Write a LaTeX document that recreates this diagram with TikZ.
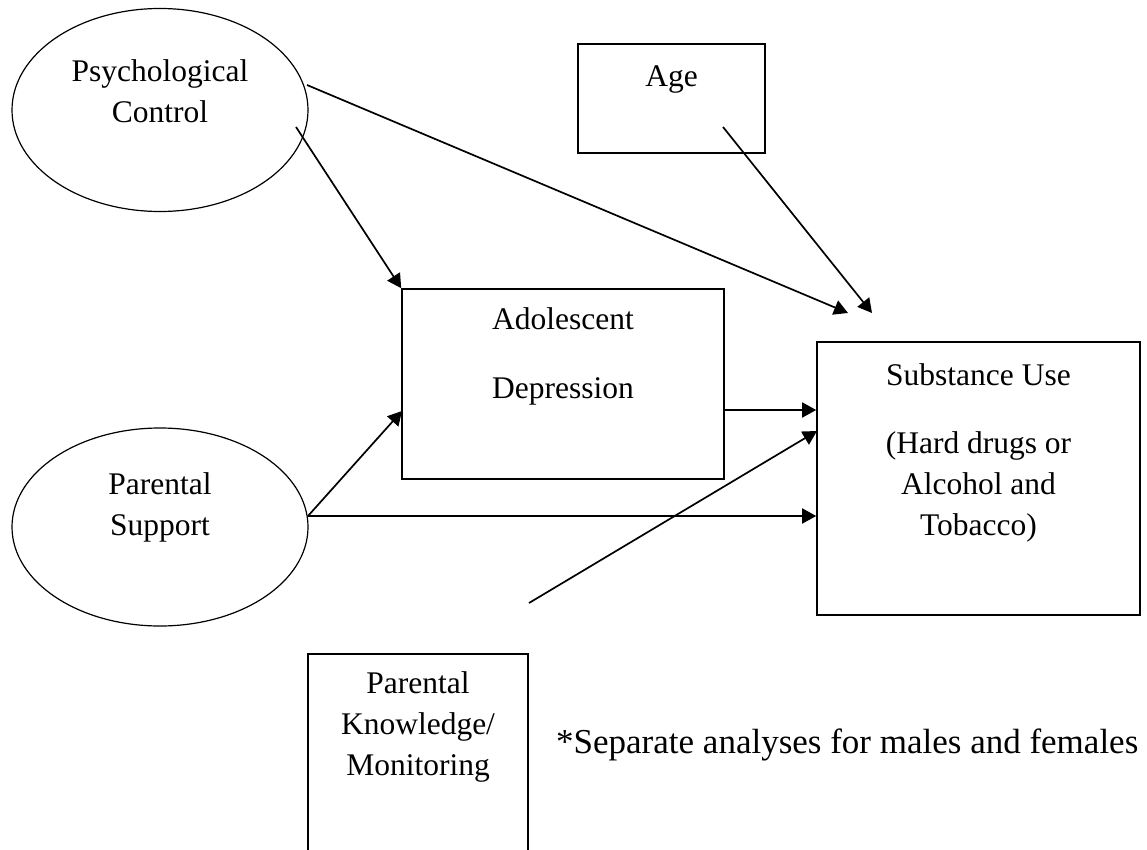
\documentclass[tikz,border=0pt]{standalone}
\usepackage{fontspec}
\setmainfont{Liberation Serif}
\usetikzlibrary{shapes.geometric, positioning, arrows.meta}

\begin{document}
\begin{tikzpicture}[x=1pt, y=-1pt,
    box/.style={draw, line width=1.6pt, inner sep=0pt},
    oval/.style={ellipse, draw, line width=1.2pt, inner sep=0pt},
    txt/.style={align=center, inner sep=0pt, font=\fontsize{31.5}{41}\selectfont},
    link/.style={line width=1.7pt, -{Triangle[length=14pt, width=15pt]}}]

    \useasboundingbox (0,0) rectangle (1147,850);
    \clip (0,0) rectangle (1147,850);

    % variables
    \node[oval, minimum width=296pt, minimum height=203pt] (pc) at (160,110) {};
    \node[oval, minimum width=296pt, minimum height=198pt] (ps) at (160,527) {};
    \node[box, minimum width=187pt, minimum height=109pt] (age) at (671.5,98.5) {};
    \node[box, minimum width=322pt, minimum height=190pt] (dep) at (563,384) {};
    \node[box, minimum width=323pt, minimum height=273pt] (su) at (978.5,478.5) {};
    \node[box, minimum width=220pt, minimum height=226pt] (pk) at (418,767) {};

    % labels
    \node[txt, below=52pt of pc.north] (pctext) {Psychological\\Control};
    \node[txt, below=45pt of ps.north] (pstext) {Parental\\Support};
    \node[txt, below=22pt of age.north] (agetext) {Age};
    \node[txt, below=19pt of dep.north] (deptext) {Adolescent\\[28pt]Depression};
    \node[txt, below=22pt of su.north] (sutext) {Substance Use\\[27pt](Hard drugs or\\Alcohol and\\Tobacco)};
    \node[txt, below=18pt of pk.north] (pktext) {Parental\\Knowledge/\\Monitoring};
    \node[txt, anchor=west, font=\fontsize{35}{41}\selectfont] (note) at (556,745) {*Separate analyses for males and females};

    % free ends
    \coordinate (pcA) at (296,127);
    \coordinate (pcB) at (307,85);
    \coordinate (ageA) at (723,127);
    \coordinate (suA) at (848,313);
    \coordinate (suB) at (872,313);
    \coordinate (depR) at (724,410);
    \coordinate (depL) at (402,411);
    \coordinate (psR) at (308,516);
    \coordinate (pkA) at (529,603);
    \coordinate (suL) at (817,431);

    \draw[link] (pcA) -- (dep.north west);
    \draw[link] (pcB) -- (suA);
    \draw[link] (ageA) -- (suB);
    \draw[link] (depR) -- (depR -| su.west);
    \draw[link] (psR) -- (depL);
    \draw[link] (psR) -- (psR -| su.west);
    \draw[link] (pkA) -- (suL);

\end{tikzpicture}
\end{document}
